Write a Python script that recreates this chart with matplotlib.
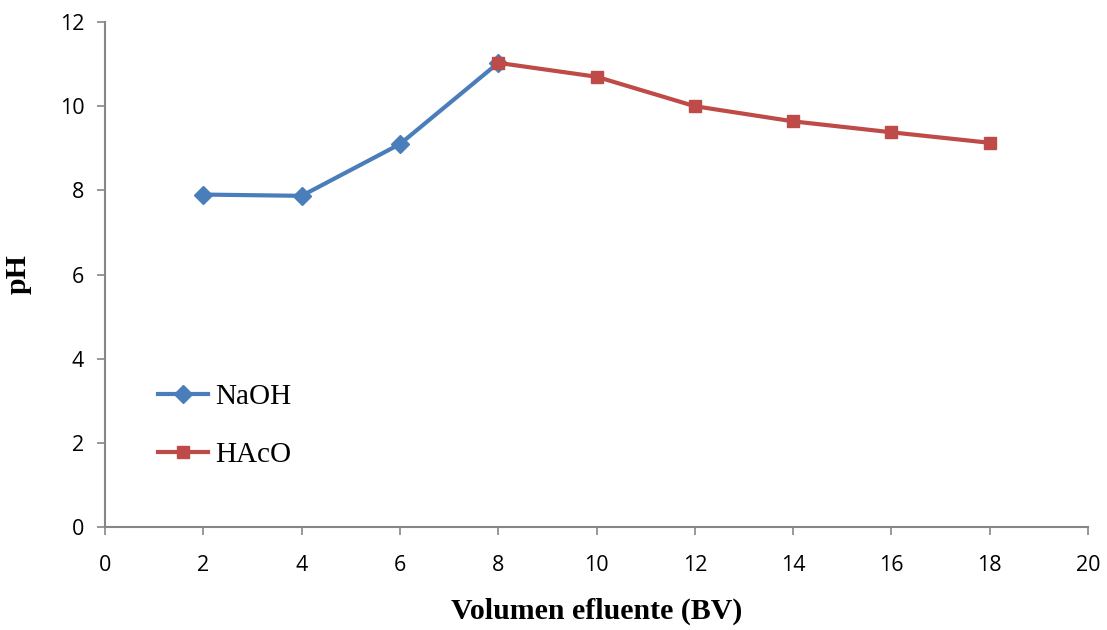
import matplotlib
matplotlib.use("Agg")
import matplotlib.pyplot as plt

# Effluent volume (bed volumes) and measured pH
bv_naoh = [2, 4, 6, 8]
ph_naoh = [7.90, 7.87, 9.10, 11.03]
bv_haco = [8, 10, 12, 14, 16, 18]
ph_haco = [11.03, 10.70, 10.00, 9.64, 9.38, 9.13]

x_ticks = [0, 2, 4, 6, 8, 10, 12, 14, 16, 18, 20]
y_ticks = [0, 2, 4, 6, 8, 10, 12]

fig = plt.figure(figsize=(11.07, 6.30), dpi=100)
ax = fig.add_axes([0.0949, 0.1635, 0.8880, 0.8015])

ax.plot(bv_naoh, ph_naoh, color="#4a7ebb", lw=3, marker="D", ms=9,
        label="NaOH", zorder=3)
ax.plot(bv_haco, ph_haco, color="#be4b48", lw=3, marker="s", ms=9,
        label="HAcO", zorder=3)

ax.set_xlim(0, 20)
ax.set_ylim(0, 12)
ax.set_xticks(x_ticks)
ax.set_yticks(y_ticks)

for side in ("top", "right"):
    ax.spines[side].set_visible(False)
for side in ("left", "bottom"):
    ax.spines[side].set_color("#868686")
    ax.spines[side].set_linewidth(1.5)

ax.tick_params(axis="both", colors="#868686", length=6, width=1.2,
               labelcolor="black", labelsize=15.5)
ax.tick_params(axis="x", pad=14)
ax.tick_params(axis="y", pad=9)
for lbl in ax.get_xticklabels() + ax.get_yticklabels():
    lbl.set_fontfamily("Open Sans")

ax.set_xlabel("Volumen efluente (BV)", fontfamily="Liberation Serif",
              fontweight="bold", fontsize=21.5, labelpad=16)
ax.set_ylabel("pH", fontfamily="Liberation Serif", fontweight="bold",
              fontsize=21.5, labelpad=20)

leg = ax.legend(loc="center left", bbox_to_anchor=(0.054, 0.2),
                frameon=False, prop={"family": "Liberation Serif", "size": 21},
                handlelength=1.7, labelspacing=1.1, handletextpad=0.25,
                borderaxespad=0, borderpad=0)

fig.savefig("out.png", dpi=100)
